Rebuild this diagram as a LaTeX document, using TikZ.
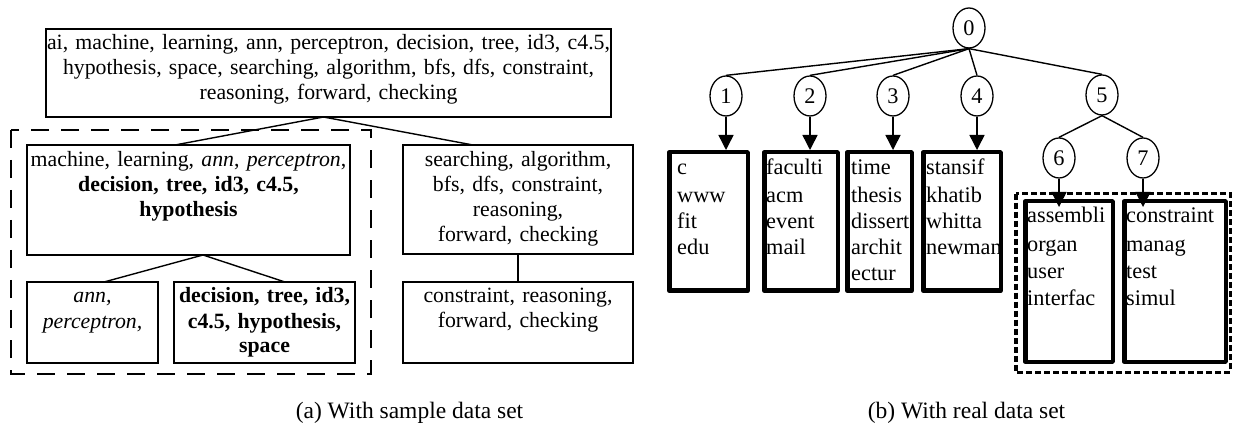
\documentclass[tikz,border=0pt]{standalone}
\usepackage{fontspec}
\setmainfont{Liberation Serif}
\usetikzlibrary{arrows.meta,calc,shapes.geometric}
\begin{document}
\begin{tikzpicture}[x=1pt,y=-1pt,
  thinbox/.style={draw, line width=1.4pt, rectangle, inner sep=0pt, outer sep=0pt},
  thickbox/.style={draw, line width=4.5pt, line join=round, rectangle, inner sep=0pt},
  ctext/.style={anchor=base, align=center, inner sep=0pt, font=\fontsize{21.8}{25}\selectfont},
  ltext/.style={anchor=base west, align=left, text width=110pt, inner sep=0pt, font=\fontsize{22.3}{26}\selectfont},
  nd/.style={draw, ellipse, minimum width=32pt, minimum height=40pt, inner sep=0pt, line width=1.3pt, font=\fontsize{22.3}{25}\selectfont},
  edge/.style={line width=1.4pt},
  arr/.style={line width=1.5pt, -{Triangle[length=15pt,width=15pt]}},
  ldash/.style={line width=1.5pt, dash pattern=on 18pt off 12pt},
  rdash/.style={line width=3.5pt, dash pattern=on 6pt off 3pt},
  captxt/.style={anchor=base, inner sep=0pt, font=\fontsize{23.5}{26}\selectfont}]
\useasboundingbox (0,0) rectangle (1233,427);

% ---------- (a) ----------
\node[thinbox, minimum width=565pt, minimum height=88pt] (B0) at (328.5,73) {};
\node[ctext, text width=600pt] (T0) at (328.5,50) {ai, machine, learning, ann, perceptron, decision, tree, id3, c4.5,\\ hypothesis, space, searching, algorithm, bfs, dfs, constraint,\\ reasoning, forward, checking};

\draw[ldash] (11,130) rectangle (371,374);

\node[thinbox, minimum width=323pt, minimum height=110pt] (B1) at (188.5,200) {};
\node[ctext, text width=330pt] (T1) at (188.5,167) {machine, learning, \textit{ann}, \textit{perceptron},\\ \textbf{decision, tree, id3, c4.5,}\\ \textbf{hypothesis}};

\node[thinbox, minimum width=230pt, minimum height=109pt] (B2) at (518,199.5) {};
\node[ctext, text width=240pt] (T2) at (518,167) {searching, algorithm,\\ bfs, dfs, constraint,\\ reasoning,\\ forward, checking};

\node[thinbox, minimum width=131pt, minimum height=81pt] (B11) at (92.5,322.5) {};
\node[ctext, text width=140pt] (T11) at (92.5,303) {\textit{ann,}\\ \textit{perceptron,}};

\node[thinbox, minimum width=181pt, minimum height=81pt] (B12) at (264.5,322.5) {};
\node[ctext, text width=190pt] (T12) at (264.5,303) {\textbf{decision, tree, id3,}\\ \textbf{c4.5, hypothesis,}\\ \textbf{space}};

\node[thinbox, minimum width=230pt, minimum height=81pt] (B21) at (518,322.5) {};
\node[ctext, text width=240pt] (T21) at (518,302) {constraint, reasoning,\\ forward, checking};

\draw[edge] ($(B0.south)+(-5,0)$) -- ($(B1.north)+(-13.5,0)$);
\draw[edge] ($(B0.south)+(-5,0)$) -- ($(B2.north)+(-45,0)$);
\draw[edge] ($(B1.south)+(14.5,0)$) -- ($(B11.north)+(11.5,0)$);
\draw[edge] ($(B1.south)+(14.5,0)$) -- ($(B12.north)+(20.5,0)$);
\draw[edge] (B2.south) -- (B21.north);

\node[captxt] (CA) at (409.5,418) {(a) With sample data set};

% ---------- (b) ----------
\node[nd] (C0) at (969,28) {0};
\node[nd] (C1) at (726,96) {1};
\node[nd] (C2) at (810,96) {2};
\node[nd] (C3) at (893,96) {3};
\node[nd] (C4) at (977,96) {4};
\node[nd] (C5) at (1102,95) {5};
\node[nd] (C6) at (1059,158) {6};
\node[nd] (C7) at (1143,158) {7};

\foreach \i in {1,2,3,4,5} \draw[edge] (C0.south) -- (C\i.north);
\draw[edge] (C5.south) -- (C6.north);
\draw[edge] (C5.south) -- (C7.north);

\draw[rdash] (1015.75,193.75) rectangle (1230.25,372.25);

\node[thickbox, minimum width=78.5pt, minimum height=138.5pt] (R1) at (708.5,221.5) {};
\node[thickbox, minimum width=73.5pt, minimum height=138.5pt] (R2) at (801,221.5) {};
\node[thickbox, minimum width=64.5pt, minimum height=138.5pt] (R3) at (879.5,221.5) {};
\node[thickbox, minimum width=77.5pt, minimum height=138.5pt] (R4) at (962,221.5) {};
\node[thickbox, minimum width=87.5pt, minimum height=160.5pt] (R6) at (1069,281.5) {};
\node[thickbox, minimum width=101.5pt, minimum height=160.5pt] (R7) at (1175,281.5) {};

\node[ltext] (L1) at (677,175) {c\\[2pt] www\\ fit\\ edu};
\node[ltext] (L2) at (766,175) {faculti\\[2pt] acm\\ event\\ mail};
\node[ltext] (L3) at (851,175) {time\\[2pt] thesis\\ dissert\\ archit\\ ectur};
\node[ltext] (L4) at (926,175) {stansif\\[2pt] khatib\\ whitta\\ newman};
\node[ltext, font=\fontsize{22.3}{27}\selectfont] (L6) at (1027,223) {assembli\\[2pt] organ\\ user\\ interfac};
\node[ltext, font=\fontsize{22.3}{27}\selectfont] (L7) at (1126,223) {constraint\\[2pt] manag\\ test\\ simul};

\draw[arr] (C1.south) -- (C1.south |- R1.north);
\draw[arr] (C2.south) -- (C2.south |- R2.north);
\draw[arr] (C3.south) -- (C3.south |- R3.north);
\draw[arr] (C4.south) -- (C4.south |- R4.north);
\draw[arr] (C6.south) -- ($(C6.south |- R6.north)+(0,8)$);
\draw[arr] (C7.south) -- ($(C7.south |- R7.north)+(0,8)$);

\node[captxt] (CB) at (966.5,418) {(b) With real data set};
\end{tikzpicture}
\end{document}
